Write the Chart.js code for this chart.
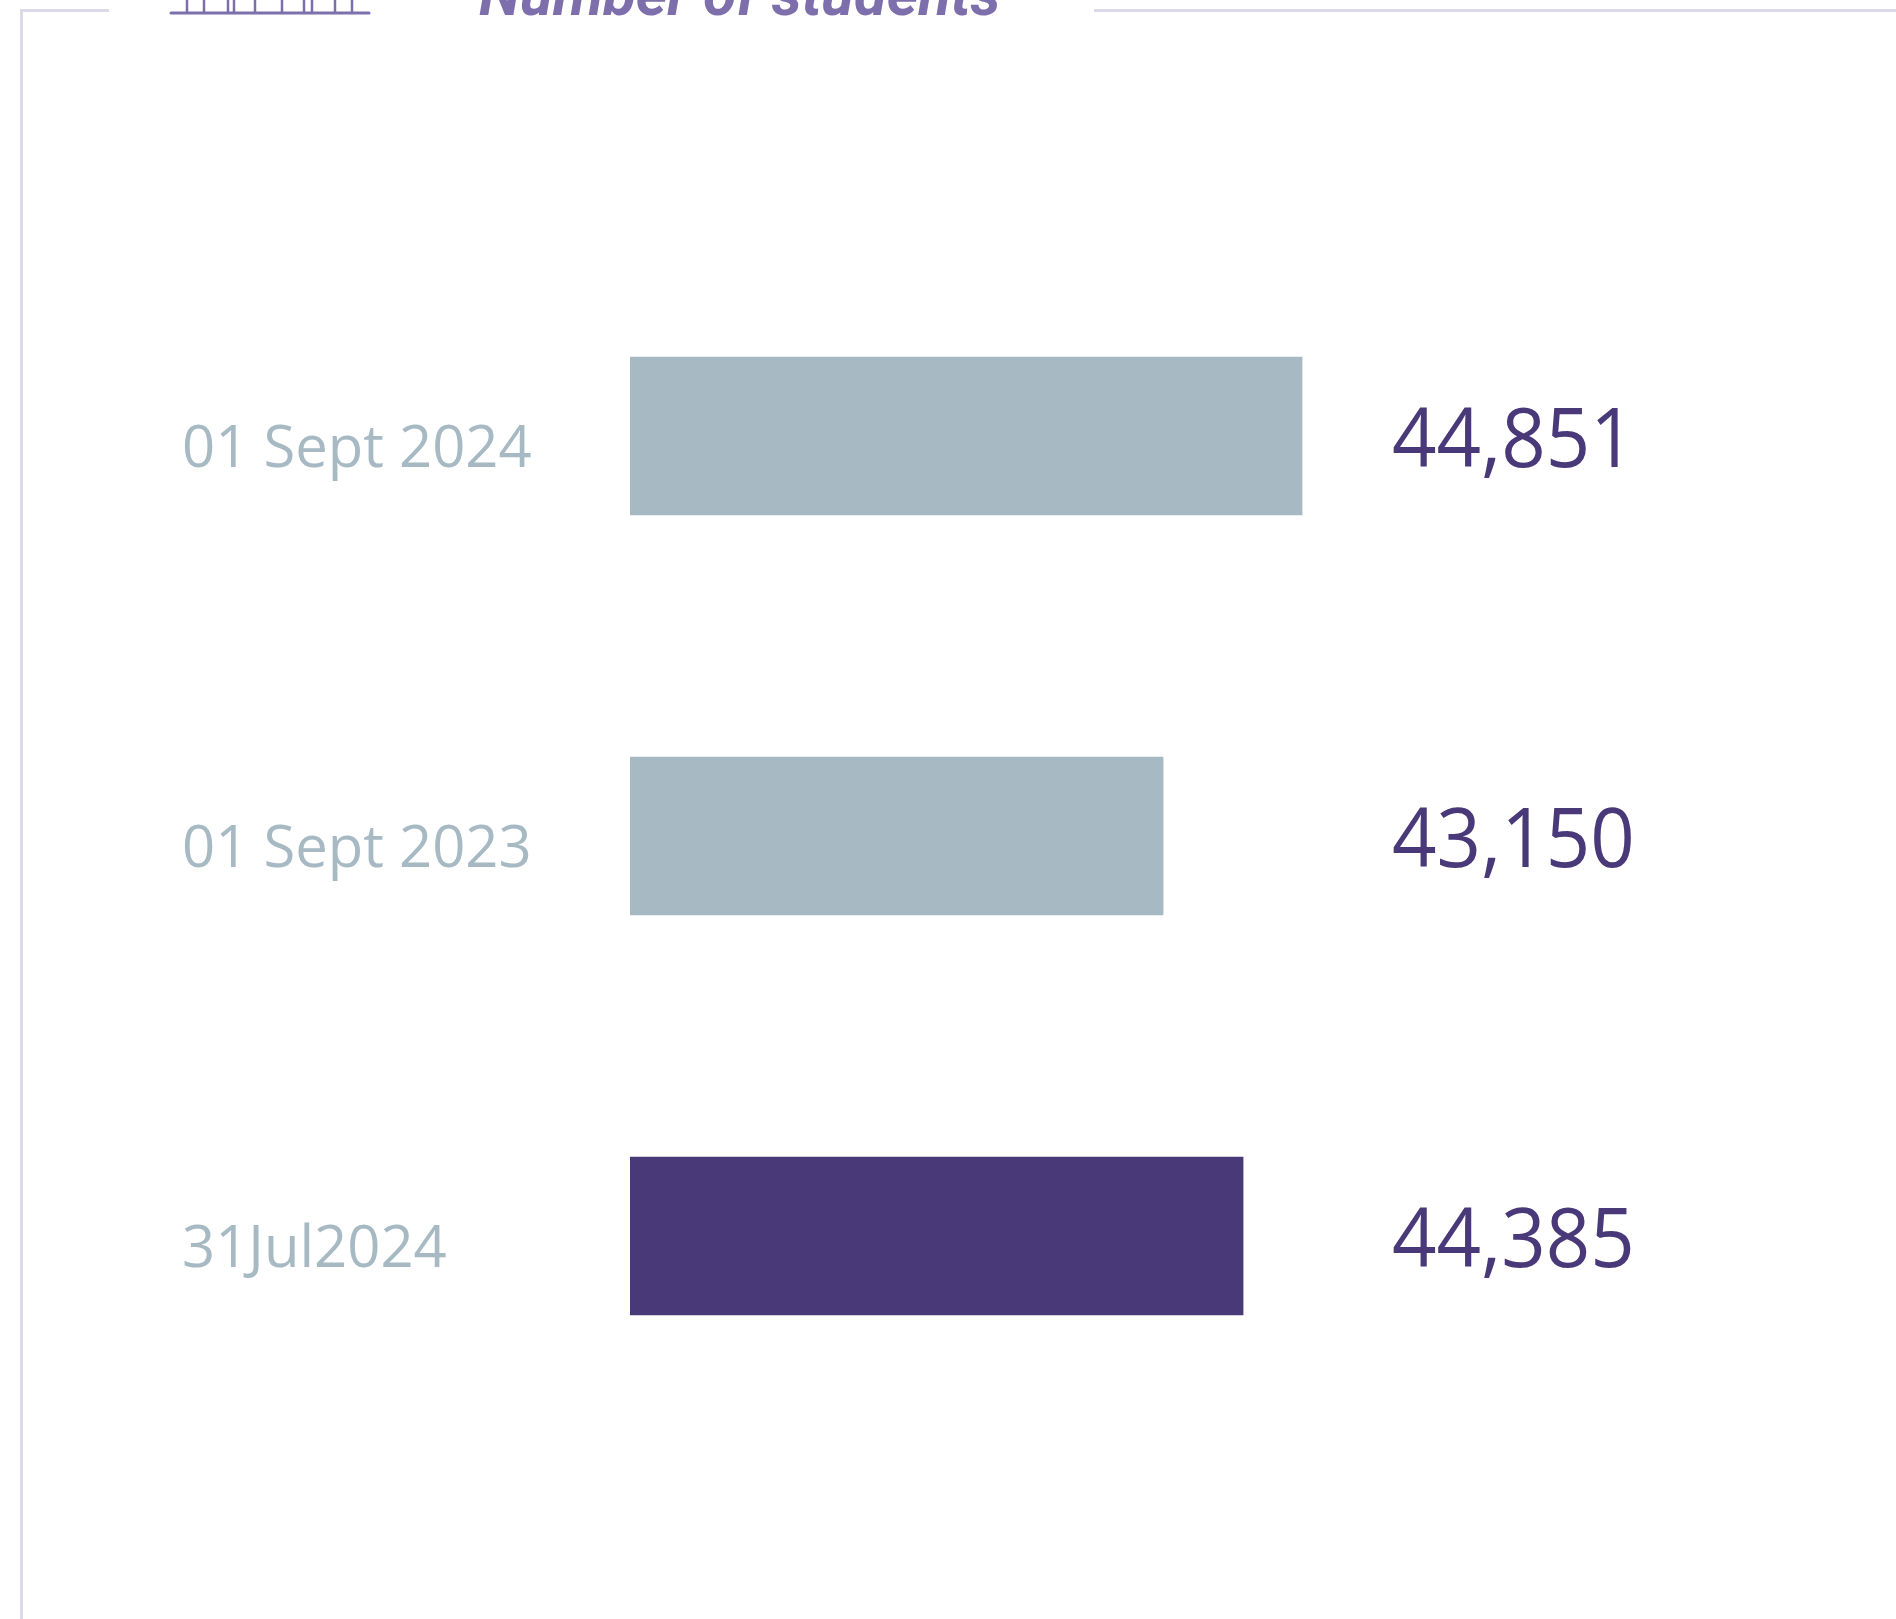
<!DOCTYPE html>
<html>
<head>
<meta charset="utf-8">
<title>Number of students</title>
<script src="https://cdn.jsdelivr.net/npm/chart.js@4"></script>
<style>
    html, body { margin: 0; padding: 0; background: #ffffff; }
    #wrap { position: relative; width: 1896px; height: 1619px; overflow: hidden; }
</style>
</head>
<body>
<div id="wrap"><canvas id="chart" width="1896" height="1619"></canvas></div>
<script>
// Data
const categories = ['01 Sept 2024', '01 Sept 2023', '31Jul2024'];
// Numbers printed next to the bars
const printedValues = ['44,851', '43,150', '44,385'];
// Lengths of the bars as drawn: the third bar is shorter than its printed number implies
const drawnValues = [44851, 43150, 44129];
const barColors = ['#a7bac3', '#a7bac3', '#493979'];
const iconPosts = [16, 33, 57, 63, 84, 111, 133, 141, 164, 181];

// Frame and cut-off heading
const framePlugin = {
    id: 'frame',
    beforeDraw(chart) {
        const ctx = chart.ctx;
        ctx.save();
        ctx.strokeStyle = '#dcd9e8';
        ctx.lineWidth = 3;
        ctx.beginPath();
        ctx.moveTo(21.5, 1619);
        ctx.lineTo(21.5, 10.5);
        ctx.lineTo(109, 10.5);
        ctx.moveTo(1094, 10.5);
        ctx.lineTo(1896, 10.5);
        ctx.stroke();

        ctx.strokeStyle = '#7d6fab';
        ctx.lineWidth = 3;
        ctx.lineCap = 'round';
        ctx.beginPath();
        ctx.moveTo(171, 13);
        ctx.lineTo(369, 13);
        ctx.stroke();
        ctx.lineWidth = 2.5;
        ctx.lineCap = 'butt';
        ctx.beginPath();
        iconPosts.forEach(p => {
            ctx.moveTo(171 + p, 0);
            ctx.lineTo(171 + p, 13);
        });
        ctx.stroke();

        ctx.fillStyle = '#7d6fab';
        ctx.font = 'italic bold 60px Roboto';
        ctx.textAlign = 'left';
        ctx.textBaseline = 'alphabetic';
        ctx.fillText('Number of students', 479, 15);
        ctx.restore();
    }
};

// Date labels and printed numbers, on one baseline just below each bar's centre
const textPlugin = {
    id: 'rowText',
    afterDatasetsDraw(chart) {
        const ctx = chart.ctx;
        const yScale = chart.scales.y;
        ctx.save();
        ctx.textAlign = 'left';
        ctx.textBaseline = 'alphabetic';
        categories.forEach((label, i) => {
            const y = yScale.getPixelForTick(i) + 31;
            ctx.fillStyle = '#a7bac3';
            ctx.font = '58px "Open Sans"';
            ctx.fillText(label, 182, y);

            ctx.save();
            ctx.fillStyle = '#493979';
            ctx.font = '82px "Open Sans"';
            ctx.translate(1392, y);
            ctx.scale(0.95, 1);
            ctx.fillText(printedValues[i], 0, 0);
            ctx.restore();
        });
        ctx.restore();
    }
};

new Chart(document.getElementById('chart'), {
    type: 'bar',
    data: {
        labels: categories,
        datasets: [{
            data: drawnValues,
            backgroundColor: barColors,
            borderWidth: 0,
            barThickness: 158
        }]
    },
    plugins: [framePlugin, textPlugin],
    options: {
        indexAxis: 'y',
        responsive: false,
        animation: false,
        layout: { padding: { top: 236, bottom: 183, left: 0, right: 0 } },
        plugins: {
            legend: { display: false },
            tooltip: { enabled: false }
        },
        scales: {
            x: {
                display: false,
                min: 36626,
                max: 52120
            },
            y: {
                afterFit(scale) { scale.width = 630; },
                border: { display: false },
                grid: { display: false },
                ticks: { display: false }
            }
        }
    }
});
</script>
</body>
</html>
